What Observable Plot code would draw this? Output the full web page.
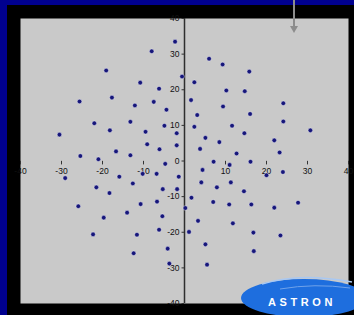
<!DOCTYPE html>
<html>
<head>
<meta charset="utf-8">
<script src="https://cdn.jsdelivr.net/npm/d3@7"></script>
<script src="https://cdn.jsdelivr.net/npm/@observablehq/plot@0.6"></script>
<style>
  html, body { margin: 0; padding: 0; }
  body { width: 354px; height: 315px; background: #00008f; position: relative; overflow: hidden; }
  #plot { position: absolute; left: 7px; top: 5px; width: 347px; height: 310px; background: #000; }
  #overlay { position: absolute; left: 0; top: 0; }
</style>
</head>
<body>
<div id="plot"></div>
<svg id="overlay" width="354" height="315" viewBox="0 0 354 315">
  <line x1="294" y1="0" x2="294" y2="28" stroke="#8c8c8c" stroke-width="2"/>
  <path d="M290,26 L298,26 L294,33 Z" fill="#8c8c8c"/>
  <ellipse cx="304" cy="298" rx="63" ry="19" fill="#1e6ede"/>
  <path d="M262,284 Q300,272 352,282" fill="none" stroke="#a9c8f2" stroke-width="1.5"/>
  <path d="M280,289 Q315,283 350,288" fill="none" stroke="#6fa2ea" stroke-width="1"/>
  <text x="302" y="306" text-anchor="middle" fill="#ffffff" font-family="Liberation Sans, Arial, sans-serif" font-weight="bold" font-size="11" letter-spacing="3.6">ASTRON</text>
</svg>
<script>
// Scatter points (x, y)
const px = [-2.3,-8.0,-19.1,-10.8,-6.2,-25.6,-17.7,-12.1,-7.5,-4.4,-22.0,-18.2,-13.2,-4.9,-30.5,-9.5,-1.9,-9.1,-6.1,-1.9,-25.4,-21.0,-16.7,-13.2,
  6.0,9.3,15.8,-0.6,2.4,10.2,14.7,1.6,24.1,9.4,3.1,16.0,2.4,11.6,24.1,30.7,5.1,8.5,14.6,21.9,3.8,12.7,23.2,
  -4.7,-10.2,-6.8,-1.4,-29.1,-15.9,-21.5,-12.6,-18.3,-5.3,-1.8,-25.9,-10.7,-6.7,-14.0,-19.7,-5.4,-6.2,-22.3,-11.6,-4.1,-12.4,-3.7,
  7.1,11.0,16.1,4.4,20.0,24.0,4.1,7.9,11.3,14.5,1.7,0.2,7.0,10.9,16.3,21.9,27.7,3.3,11.8,1.1,16.8,23.4,5.1,16.9,5.5];
const py = [33.5,30.8,25.4,22.0,20.3,16.7,17.8,15.6,16.6,14.4,10.6,8.6,11.0,9.9,7.4,8.2,7.8,4.7,3.3,4.4,1.4,0.5,2.7,1.6,
  28.7,27.1,25.1,23.7,22.1,19.8,19.6,17.1,16.2,15.3,12.9,13.2,9.6,9.9,11.1,8.6,6.5,5.3,7.8,5.8,3.4,2.1,2.4,
  -0.8,-3.6,-3.6,-4.4,-4.8,-4.4,-7.4,-6.3,-9.0,-7.9,-7.9,-12.7,-12.1,-11.4,-14.5,-15.9,-15.5,-19.3,-20.6,-20.7,-24.6,-25.9,-28.8,
  -0.2,-1.1,-0.2,-2.5,-4.0,-3.1,-6.0,-7.4,-6.0,-8.5,-10.3,-13.2,-11.5,-12.2,-12.2,-13.1,-11.7,-16.8,-17.5,-19.9,-20.1,-20.9,-23.4,-25.3,-29.1];

const xTicks = [-40,-30,-20,-10,10,20,30,40];
const xTickLabels = ["-40","-30","-20","-10","10","20","30","40"];
const yTicks = [-40,-30,-20,-10,0,10,20,30,40];
const yTickLabels = ["-40","-30","-20","-10","0","10","20","30","40"];

const points = px.map((x, i) => ({x, y: py[i]}));
const xt = xTicks.map((v, i) => ({v, label: xTickLabels[i]}));
const yt = yTicks.map((v, i) => ({v, label: yTickLabels[i]}));

const chart = Plot.plot({
  width: 347,
  height: 310,
  marginLeft: 13,
  marginRight: 6,
  marginTop: 13,
  marginBottom: 12,
  x: {domain: [-40, 40], axis: null},
  y: {domain: [-40, 40], axis: null},
  style: {background: "#000", fontFamily: "Liberation Sans, Arial, sans-serif", fontSize: "8.5px", overflow: "visible"},
  marks: [
    Plot.frame({fill: "#c9c9c9", stroke: null}),
    Plot.ruleX([0], {stroke: "#2e2e2e", strokeWidth: 1.5}),
    Plot.ruleY(yt, {y: "v", x1: -0.6, x2: 0, stroke: "#333", strokeWidth: 1}),
    Plot.ruleX(xt, {x: "v", y1: -0.1, y2: -1.1, stroke: "#333", strokeWidth: 1}),
    Plot.text(xt, {x: "v", y: 0, dy: 10, text: "label", fill: "#111"}),
    Plot.text(yt, {x: 0, y: "v", dx: -5, textAnchor: "end", text: "label", fill: "#111"}),
    Plot.dot(points, {x: "x", y: "y", r: 2.3, fill: "#16167a", stroke: "#e4e4f0", strokeWidth: 0.8, strokeOpacity: 0.6})
  ]
});
document.getElementById("plot").appendChild(chart);
</script>
</body>
</html>
